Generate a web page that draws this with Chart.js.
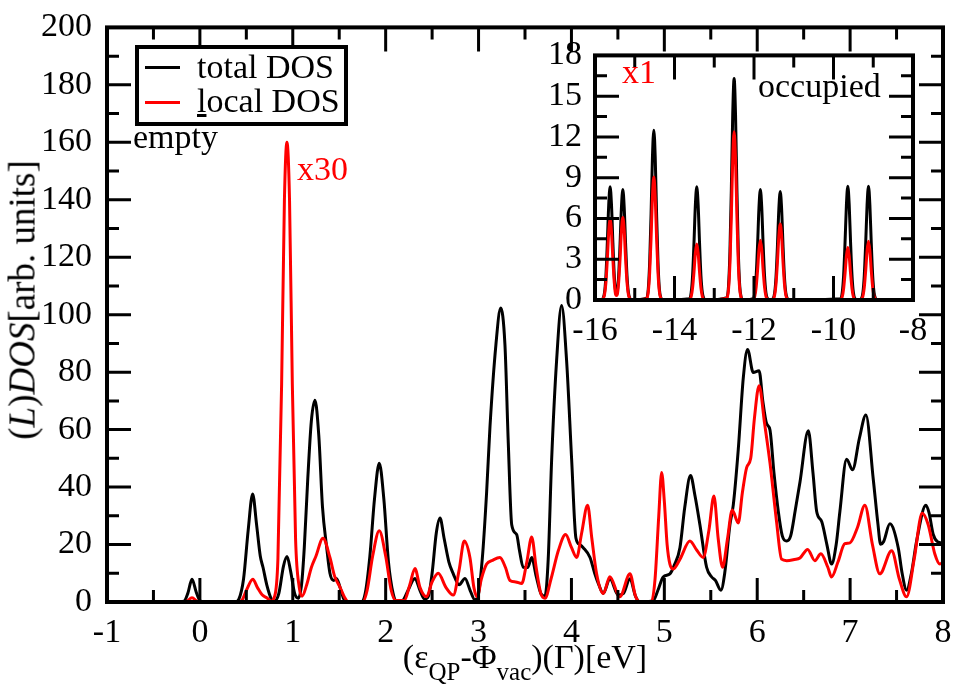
<!DOCTYPE html>
<html>
<head>
<meta charset="utf-8">
<script src="https://cdn.jsdelivr.net/npm/chart.js@4.4.1/dist/chart.umd.min.js"></script>
<style>
  body { margin: 0; background: #fff; }
  #wrap { position: relative; width: 959px; height: 687px; overflow: hidden; }
  canvas { position: absolute; }
  .txt { position: absolute; font-family: "Liberation Serif", "Times New Roman", serif; font-size: 34px; line-height: 34px; white-space: nowrap; color: #000; }
  .red { color: #f00; }
  .sample { position: absolute; height: 3px; }
  .sub { font-size: 25px; position: relative; top: 12px; }
</style>
</head>
<body>
<div id="wrap">
  <canvas id="mainChart" width="959" height="687" style="left:0;top:0"></canvas>
  <canvas id="insetChart" width="400" height="320" style="left:540px;top:30px"></canvas>

  <div id="legend" style="position:absolute;left:135px;top:45px;width:213px;height:81px;box-sizing:border-box;border:4px solid #000;background:#fff;"></div>
  <div class="sample" style="left:145px;top:66px;width:35px;background:#000"></div>
  <div class="txt" style="left:197px;top:50px">total DOS</div>
  <div class="sample" style="left:145px;top:101px;width:35px;background:#f00"></div>
  <div class="txt" style="left:197px;top:84px"><u>l</u>ocal DOS</div>

  <div class="txt" style="left:133px;top:120px">empty</div>
  <div class="txt red" style="left:297px;top:152px">x30</div>
  <div class="txt red" style="left:622px;top:55px">x1</div>
  <div class="txt" style="left:758px;top:69px">occupied</div>

  <div class="txt" style="left:22px;top:300px;font-size:37px;line-height:37px;transform:translate(-50%,-50%) rotate(-90deg)">(<i>L</i>)<i>DOS</i>[arb. units]</div>
  <div class="txt" style="left:525px;top:640px;transform:translateX(-50%)">(ε<span class="sub">QP</span>-Φ<span class="sub">vac</span>)(Γ)[eV]</div>
</div>

<script>
// main panel, unoccupied states (eV above vacuum)
const totalE = [-1.0, -0.25, -0.17, -0.13, -0.085, -0.04, 0.0, 0.05, 0.38, 0.42, 0.47, 0.52, 0.568, 0.61, 0.65, 0.68, 0.72, 0.77,
  0.80, 0.85, 0.90, 0.938, 0.975, 1.02, 1.06, 1.096, 1.124, 1.16, 1.20, 1.239, 1.28, 1.32, 1.365, 1.40, 1.44, 1.47, 1.51, 1.55, 1.60,
  1.74, 1.78, 1.83, 1.88, 1.931, 1.98, 2.03, 2.08, 2.12, 2.18, 2.24, 2.315, 2.37, 2.42, 2.46, 2.50, 2.545, 2.585, 2.63, 2.68, 2.728,
  2.79, 2.854, 2.91, 2.96, 2.99, 3.04, 3.087, 3.123, 3.187, 3.238, 3.284, 3.32, 3.357, 3.41, 3.44, 3.48, 3.53, 3.572, 3.62, 3.67,
  3.715, 3.75, 3.787, 3.84, 3.894, 3.948, 4.002, 4.048, 4.09, 4.127, 4.2, 4.25, 4.29, 4.343, 4.414, 4.504, 4.56, 4.63, 4.69, 4.74,
  4.88, 4.93, 4.988, 5.06, 5.11, 5.168, 5.22, 5.282, 5.33, 5.383, 5.455, 5.51, 5.55, 5.609, 5.65, 5.706, 5.742, 5.796, 5.85, 5.896,
  5.957, 6.02, 6.06, 6.1, 6.137, 6.18, 6.227, 6.27, 6.317, 6.36, 6.41, 6.46, 6.55, 6.60, 6.64, 6.694, 6.75, 6.80, 6.85, 6.89, 6.962,
  7.026, 7.10, 7.17, 7.249, 7.30, 7.328, 7.36, 7.428, 7.518, 7.56, 7.608, 7.66, 7.716, 7.816, 7.85, 7.895, 7.94, 8.0];
const totalDos = [0, 0, 0.3, 3, 7.9, 3.5, 0.5, 0, 0, 1, 8, 25, 37.6, 27, 16, 12, 6, 1,
  0.3, 3, 12.5, 15.8, 11, 3, 1.3, 6.5, 19, 42, 63, 70.2, 58, 33, 19, 10, 7.5, 8.2, 5, 1, 0,
  0, 3, 16, 36, 48.3, 36, 14, 3, 0.3, 0.5, 4, 8.2, 4, 1, 2, 10, 24, 29.2, 22, 14, 9.8,
  6, 8.2, 4, 0.8, 1.5, 15, 38.3, 61, 89.6, 102.3, 89.6, 55.4, 26.9, 23.5, 18, 12.1, 12, 15.5, 9, 3,
  2.0, 15, 49.7, 83.9, 103.2, 83.9, 49.7, 22.3, 20, 18.9, 15.5, 10, 6.4, 3.0, 8.1, 2.4, 3, 8.1, 2, 0,
  0.5, 4, 8.7, 9.8, 13, 18.9, 33, 44.0, 37, 26.9, 12.1, 8.7, 7.5, 4.1, 10, 26.9, 33.7, 53.1, 78, 87.9,
  79.9, 80.5, 70, 62.2, 59.9, 45, 31.5, 23, 21.2, 23, 32, 41.7, 59.6, 45, 31.5, 28, 20, 13.2, 20, 31.5, 49.7,
  46.0, 57, 65.1, 42.8, 27, 20.1, 21, 27.2, 18.9, 10, 4.1, 10, 21.2, 33.7, 31, 23.5, 21, 20.5];

const localE = [-1.0, -0.2, -0.14, -0.085, -0.03, 0.03, 0.40, 0.45, 0.50, 0.57, 0.62, 0.67, 0.72, 0.77, 0.80, 0.84, 0.88, 0.91,
  0.937, 0.965, 0.995, 1.03, 1.07, 1.10, 1.15, 1.20, 1.25, 1.325, 1.40, 1.45, 1.508, 1.56, 1.60, 1.75, 1.80, 1.86, 1.931, 2.00,
  2.06, 2.11, 2.20, 2.26, 2.315, 2.37, 2.44, 2.50, 2.566, 2.65, 2.728, 2.79, 2.846, 2.907, 2.95, 2.986, 3.03, 3.087, 3.15, 3.23,
  3.29, 3.338, 3.40, 3.464, 3.52, 3.572, 3.62, 3.67, 3.715, 3.78, 3.86, 3.937, 4.00, 4.056, 4.11, 4.174, 4.22, 4.271, 4.343,
  4.414, 4.52, 4.63, 4.69, 4.74, 4.86, 4.90, 4.94, 4.971, 5.00, 5.03, 5.06, 5.096, 5.17, 5.275, 5.35, 5.418, 5.48, 5.534, 5.58,
  5.627, 5.68, 5.731, 5.796, 5.84, 5.886, 5.93, 5.97, 6.02, 6.08, 6.137, 6.208, 6.262, 6.317, 6.40, 6.46, 6.543, 6.62, 6.685,
  6.76, 6.80, 6.87, 6.943, 6.998, 7.08, 7.159, 7.24, 7.32, 7.447, 7.53, 7.608, 7.69, 7.776, 7.84, 7.913, 7.966, 8.0];
const localDos = [0, 0, 0.3, 1.5, 0.3, 0, 0, 0.5, 4, 7.9, 5, 2.5, 1.5, 0.3, 1.5, 15, 76, 140,
  160, 140, 76, 22, 5, 2, 6, 12, 16, 22.2, 15.5, 9, 5.2, 1.5, 0, 0, 4, 16, 24.8, 16,
  4, 0.5, 0.5, 6, 11.7, 5, 1.8, 7, 10.0, 5, 2.4, 11, 21.2, 15.5, 5, 1.8, 8, 13.2, 14.5, 15.5,
  12, 7.5, 7, 6.4, 14, 22.6, 12, 3, 1.3, 8, 18, 23.5, 19, 15.5, 24, 33.7, 22, 9.8, 3,
  8.8, 1.8, 9.8, 2, 0, 0, 8, 30, 45.1, 35, 20, 13.2, 11.5, 15, 21.2, 18, 15.5, 25, 36.9, 22,
  12.1, 22, 32, 27.5, 38, 46.8, 50, 64, 75.3, 62, 48.5, 28, 14.9, 14.4, 14.8, 15.3, 18.3, 14.4, 16.8,
  12.1, 8.7, 14, 20.3, 20.6, 26, 33.7, 20, 9.8, 17.8, 8, 1.8, 15, 30.9, 27, 16.6, 13.2, 14];

// inset, occupied states
const insetE = [-16.0, -15.84,
  -15.80, -15.76, -15.725, -15.69, -15.655, -15.62, -15.585, -15.55, -15.515, -15.48, -15.46,
  -15.44, -15.405, -15.37, -15.335, -15.30, -15.265, -15.23, -15.195, -15.16, -15.12, -15.08,
  -14.70, -14.66, -14.625, -14.59, -14.555, -14.52, -14.485, -14.45, -14.415, -14.38, -14.34, -14.30,
  -13.62, -13.58, -13.545, -13.51, -13.475, -13.44, -13.405, -13.37, -13.335, -13.30, -13.26, -13.22,
  -12.68, -12.64, -12.605, -12.57, -12.535, -12.50, -12.465, -12.43, -12.395, -12.36, -12.32, -12.28,
  -12.02, -11.98, -11.945, -11.91, -11.875, -11.84, -11.805, -11.77, -11.735, -11.70, -11.66, -11.59,
  -11.52, -11.48, -11.445, -11.41, -11.375, -11.34, -11.305, -11.27, -11.235, -11.20, -11.16, -11.12,
  -9.82, -9.78, -9.745, -9.71, -9.675, -9.64, -9.605, -9.57, -9.535, -9.50, -9.46, -9.38,
  -9.30, -9.26, -9.225, -9.19, -9.155, -9.12, -9.085, -9.05, -9.015, -8.98, -8.94, -8.90, -8.0];
const insetTotal = [0, 0,
  0.1, 0.55, 1.8, 4.2, 7.0, 8.33, 7.0, 4.2, 1.8, 0.6, 0.46,
  0.6, 1.8, 4.1, 6.8, 8.14, 6.8, 4.1, 1.8, 0.55, 0.1, 0,
  0.14, 0.8, 2.75, 6.25, 10.5, 12.5, 10.5, 6.25, 2.75, 0.8, 0.14, 0,
  0.1, 0.55, 1.8, 4.2, 7.0, 8.33, 7.0, 4.2, 1.8, 0.55, 0.1, 0,
  0.18, 1.08, 3.6, 8.15, 13.7, 16.3, 13.7, 8.15, 3.6, 1.08, 0.18, 0,
  0.1, 0.54, 1.8, 4.07, 6.8, 8.14, 6.8, 4.07, 1.8, 0.54, 0.1, 0,
  0.1, 0.53, 1.76, 4.0, 6.7, 7.98, 6.7, 4.0, 1.76, 0.53, 0.1, 0,
  0.1, 0.55, 1.84, 4.2, 7.0, 8.38, 7.0, 4.2, 1.84, 0.55, 0.1, 0,
  0.1, 0.55, 1.84, 4.2, 7.0, 8.38, 7.0, 4.2, 1.84, 0.55, 0.1, 0, 0];
const insetLocal = [0, 0,
  0.07, 0.4, 1.3, 3.0, 5.0, 5.95, 5.0, 3.0, 1.3, 0.4, 0.34,
  0.4, 1.3, 3.0, 5.1, 6.07, 5.1, 3.0, 1.3, 0.4, 0.07, 0,
  0.1, 0.6, 2.0, 4.5, 7.6, 9.05, 7.6, 4.5, 2.0, 0.6, 0.1, 0,
  0.05, 0.27, 0.9, 2.06, 3.46, 4.12, 3.46, 2.06, 0.9, 0.27, 0.05, 0,
  0.14, 0.82, 2.7, 6.2, 10.4, 12.38, 10.4, 6.2, 2.7, 0.82, 0.14, 0,
  0.05, 0.29, 0.97, 2.2, 3.7, 4.4, 3.7, 2.2, 0.97, 0.29, 0.05, 0,
  0.06, 0.37, 1.23, 2.8, 4.7, 5.6, 4.7, 2.8, 1.23, 0.37, 0.06, 0,
  0.04, 0.25, 0.85, 1.93, 3.24, 3.86, 3.24, 1.93, 0.85, 0.25, 0.04, 0,
  0.05, 0.29, 0.95, 2.17, 3.64, 4.33, 3.64, 2.17, 0.95, 0.29, 0.05, 0, 0];

Chart.defaults.font.family = '"Liberation Serif", "Times New Roman", serif';
Chart.defaults.font.size = 34;
Chart.defaults.color = '#000';

function toPoints(xs, ys) {
  return xs.map((x, i) => ({ x: x, y: ys[i] }));
}

// closed frame with inward major/minor ticks on all four sides
const frameTicks = {
  id: 'frameTicks',
  afterDatasetsDraw(chart, args, opts) {
    const { ctx, chartArea: a, scales: { x, y } } = chart;
    ctx.save();
    ctx.strokeStyle = '#000';
    ctx.lineWidth = 3;
    ctx.beginPath();
    const nx = Math.round((x.max - x.min) / opts.xMinor);
    for (let i = 0; i <= nx; i++) {
      const px = x.getPixelForValue(x.min + i * opts.xMinor);
      const len = i % 2 === 0 ? 24 : 12;
      ctx.moveTo(px, a.bottom); ctx.lineTo(px, a.bottom - len);
      ctx.moveTo(px, a.top); ctx.lineTo(px, a.top + len);
    }
    const ny = Math.round((y.max - y.min) / opts.yMinor);
    for (let i = 0; i <= ny; i++) {
      const py = y.getPixelForValue(y.min + i * opts.yMinor);
      const len = i % 2 === 0 ? 24 : 12;
      ctx.moveTo(a.left, py); ctx.lineTo(a.left + len, py);
      ctx.moveTo(a.right, py); ctx.lineTo(a.right - len, py);
    }
    ctx.stroke();
    ctx.lineWidth = 4;
    ctx.strokeRect(a.left, a.top, a.right - a.left, a.bottom - a.top);
    ctx.restore();
  }
};

function lineSet(label, pts, color, order) {
  return {
    label: label,
    data: pts,
    borderColor: color,
    borderWidth: 3,
    pointRadius: 0,
    fill: false,
    cubicInterpolationMode: 'monotone',
    order: order
  };
}

new Chart(document.getElementById('mainChart'), {
  type: 'line',
  data: {
    datasets: [
      lineSet('local DOS', toPoints(localE, localDos), '#f00', 1),
      lineSet('total DOS', toPoints(totalE, totalDos), '#000', 2)
    ]
  },
  options: {
    responsive: false,
    animation: false,
    devicePixelRatio: 1,
    layout: { padding: { left: 0, top: 17, right: 16, bottom: 0 } },
    plugins: {
      legend: { display: false },
      tooltip: { enabled: false },
      frameTicks: { xMinor: 0.5, yMinor: 10 }
    },
    scales: {
      x: {
        type: 'linear', min: -1, max: 8,
        grid: { display: false }, border: { display: false },
        ticks: { stepSize: 1, autoSkip: false, maxRotation: 0, padding: 3 },
        afterFit: s => { s.height = 85; }
      },
      y: {
        min: 0, max: 200,
        grid: { display: false }, border: { display: false },
        ticks: { stepSize: 20, autoSkip: false, padding: 7 },
        afterFit: s => { s.width = 107; }
      }
    }
  },
  plugins: [frameTicks]
});

new Chart(document.getElementById('insetChart'), {
  type: 'line',
  data: {
    datasets: [
      lineSet('local DOS', toPoints(insetE, insetLocal), '#f00', 1),
      lineSet('total DOS', toPoints(insetE, insetTotal), '#000', 2)
    ]
  },
  options: {
    responsive: false,
    animation: false,
    devicePixelRatio: 1,
    layout: { padding: { left: 0, top: 18, right: 27, bottom: 0 } },
    plugins: {
      legend: { display: false },
      tooltip: { enabled: false },
      frameTicks: { xMinor: 1, yMinor: 1.5 }
    },
    scales: {
      x: {
        type: 'linear', min: -16, max: -8,
        grid: { display: false }, border: { display: false },
        ticks: { stepSize: 2, autoSkip: false, maxRotation: 0, padding: 3 },
        afterFit: s => { s.height = 50; }
      },
      y: {
        min: 0, max: 18,
        grid: { display: false }, border: { display: false },
        ticks: { stepSize: 3, autoSkip: false, padding: 5 },
        afterFit: s => { s.width = 55; }
      }
    }
  },
  plugins: [frameTicks]
});
</script>
</body>
</html>
